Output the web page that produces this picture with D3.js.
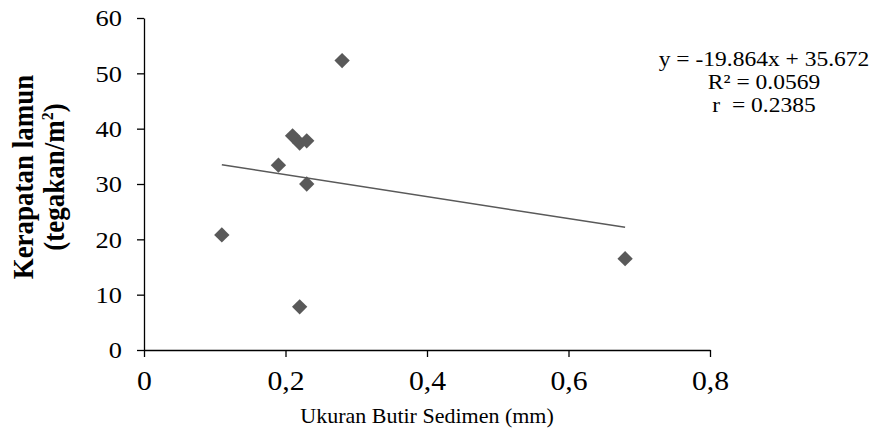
<!DOCTYPE html>
<html>
<head>
<meta charset="utf-8">
<script src="https://cdn.jsdelivr.net/npm/d3@7"></script>
<style>
  body { margin: 0; background: #fff; }
  text { font-family: "Liberation Serif", "Times New Roman", serif; fill: #000; }
</style>
</head>
<body>
<div id="chart"></div>
<script>
// Data
const ukuranButir = [0.11, 0.19, 0.21, 0.22, 0.23, 0.23, 0.22, 0.28, 0.68];
const kerapatan = [20.8, 33.4, 38.7, 37.4, 37.8, 30.0, 7.8, 52.3, 16.5];
const xTicks = [0, 0.2, 0.4, 0.6, 0.8];
const yTicks = [0, 10, 20, 30, 40, 50, 60];
const slope = -19.864;
const intercept = 35.672;
const eqLines = ["y = -19.864x + 35.672", "R\u00B2 = 0.0569", "r  = 0.2385"];

const width = 875, height = 430;
const margin = { top: 18, right: 165, bottom: 80, left: 144 };
const w = width - margin.left - margin.right;
const h = height - margin.top - margin.bottom;
const sx = 1.1; // the text in the original is a little wide

const svg = d3.select("#chart").append("svg")
    .attr("width", width)
    .attr("height", height);

const g = svg.append("g")
    .attr("transform", `translate(${margin.left},${margin.top})`);

const x = d3.scaleLinear().domain([0, 0.8]).range([0, w]);
const y = d3.scaleLinear().domain([0, 60]).range([h, 0]);

const fmt = d => d === 0 ? "0" : d3.format(".1f")(d).replace(".", ",");

// x axis
const xAxis = g.append("g")
    .attr("transform", `translate(0,${h})`)
    .call(d3.axisBottom(x).tickValues(xTicks).tickFormat(fmt).tickSize(7).tickPadding(14).tickSizeOuter(0));
xAxis.selectAll("text")
    .style("font-size", "27px")
    .attr("transform", `scale(${sx},1)`);

// y axis
const yAxis = g.append("g")
    .call(d3.axisLeft(y).tickValues(yTicks).tickSize(7).tickPadding(13).tickSizeOuter(0));
yAxis.selectAll("text")
    .style("font-size", "24px")
    .attr("transform", `scale(${sx},1)`);

svg.selectAll(".domain, .tick line").attr("stroke", "#000").attr("stroke-width", 1.3);

// trend line
const xs = d3.extent(ukuranButir);
g.append("line")
    .attr("x1", x(xs[0])).attr("y1", y(slope * xs[0] + intercept))
    .attr("x2", x(xs[1])).attr("y2", y(slope * xs[1] + intercept))
    .attr("stroke", "#595959")
    .attr("stroke-width", 1.5);

// points
const diamond = d3.symbol().type(d3.symbolDiamond2).size(150);
g.selectAll(".pt")
    .data(ukuranButir.map((v, i) => ({ x: v, y: kerapatan[i] })))
    .enter().append("path")
    .attr("class", "pt")
    .attr("d", diamond)
    .attr("transform", d => `translate(${x(d.x)},${y(d.y)})`)
    .attr("fill", "#595959");

// axis titles
svg.append("text")
    .attr("transform", `translate(${margin.left + w / 2},423) scale(${sx},1)`)
    .attr("text-anchor", "middle")
    .style("font-size", "20px")
    .text("Ukuran Butir Sedimen (mm)");

const yt = svg.append("text")
    .attr("transform", `translate(0,177) scale(${sx},1) rotate(-90)`)
    .attr("text-anchor", "middle")
    .style("font-size", "27px")
    .style("font-weight", "bold");
yt.append("tspan").attr("x", 0).attr("y", 30).text("Kerapatan lamun");
const t2 = yt.append("tspan").attr("x", 0).attr("y", 58).text("(tegakan/m");
t2.append("tspan").attr("dy", -10).style("font-size", "16px").text("2");
t2.append("tspan").attr("dy", 10).text(")");

// equation
svg.append("g").selectAll("text")
    .data(eqLines)
    .enter().append("text")
    .attr("transform", (d, i) => `translate(764,${66 + i * 23}) scale(1.12,1)`)
    .attr("text-anchor", "middle")
    .style("font-size", "21px")
    .style("white-space", "pre")
    .text(d => d);
</script>
</body>
</html>
